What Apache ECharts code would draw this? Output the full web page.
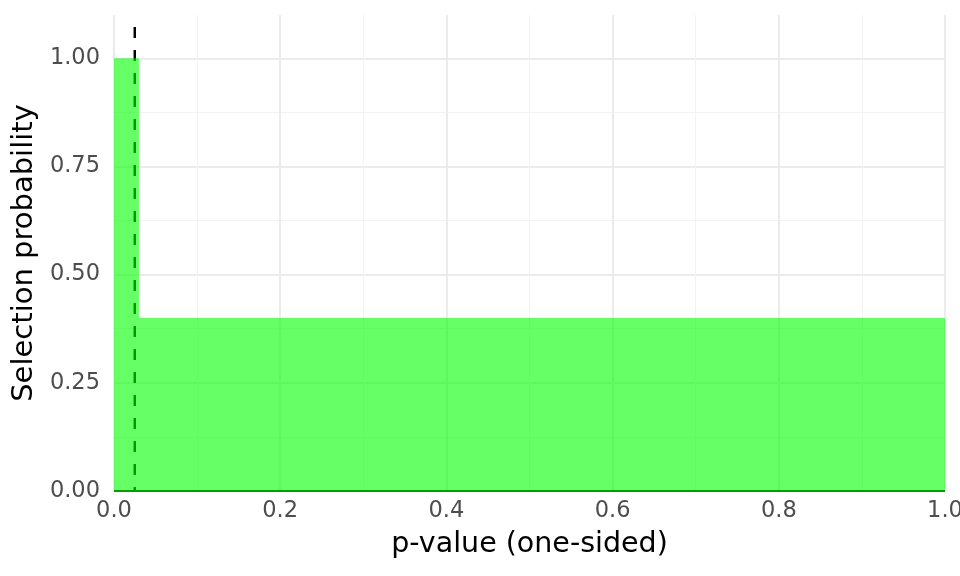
<!DOCTYPE html>
<html><head><meta charset="utf-8">
<script src="https://cdn.jsdelivr.net/npm/echarts@6/dist/echarts.min.js"></script>
<style>html,body{margin:0;padding:0;background:#fff}#c{width:960px;height:576px}</style>
</head><body><div id="c"></div>
<script>
const stepBreaks = [0, 0.03, 1];
const selectionProb = [1, 0.4];
const cutoff = 0.025;
const xTicks = [0, 0.2, 0.4, 0.6, 0.8, 1.0];
const yTicks = [0, 0.25, 0.5, 0.75, 1.0];

const stepData = [];
for (let i = 0; i < selectionProb.length; i++) {
  stepData.push([stepBreaks[i], selectionProb[i]]);
  stepData.push([stepBreaks[i + 1], selectionProb[i]]);
}

const chart = echarts.init(document.getElementById('c'));
const font = 'DejaVu Sans';
chart.setOption({
  animation: false,
  grid: { left: 114, right: 15, top: 15, bottom: 85, containLabel: false, outerBoundsMode: 'none' },
  xAxis: {
    type: 'value', min: 0, max: 1, interval: 0.2,
    name: 'p-value (one-sided)', nameLocation: 'middle', nameGap: 39,
    nameTextStyle: { color: '#000', fontSize: 28.5, fontFamily: font },
    axisLine: { show: false }, axisTick: { show: false },
    axisLabel: { color: '#4d4d4d', fontSize: 22.5, fontFamily: font, margin: 9,
      formatter: v => xTicks.some(t => Math.abs(t - v) < 1e-9) ? v.toFixed(1) : '' },
    splitLine: { show: true, lineStyle: { color: '#ebebeb', width: 2 } },
    minorTick: { show: false, splitNumber: 2 },
    minorSplitLine: { show: true, lineStyle: { color: '#f3f3f3', width: 1 } }
  },
  yAxis: {
    type: 'value', min: 0, max: 1.1, interval: 0.25,
    name: 'Selection probability', nameLocation: 'middle', nameGap: 71,
    nameTextStyle: { color: '#000', fontSize: 29, fontFamily: font },
    axisLine: { show: false }, axisTick: { show: false },
    axisLabel: { color: '#4d4d4d', fontSize: 22.5, fontFamily: font, margin: 14, showMaxLabel: false,
      formatter: v => yTicks.some(t => Math.abs(t - v) < 1e-9) ? v.toFixed(2) : '' },
    splitLine: { show: true, showMaxLine: false, lineStyle: { color: '#ebebeb', width: 2 } },
    minorTick: { show: false, splitNumber: 2 },
    minorSplitLine: { show: true, lineStyle: { color: '#f3f3f3', width: 1 } }
  },
  series: [
    {
      type: 'line', data: [[cutoff, 0], [cutoff, 1.1]], symbol: 'none', silent: true,
      lineStyle: { color: '#000', width: 2.5, type: [11, 12], dashOffset: 7 }, z: 1
    },
    {
      type: 'line', data: stepData, symbol: 'none', silent: true,
      lineStyle: { width: 0, opacity: 0 },
      areaStyle: { color: 'rgba(0,255,0,0.6)', opacity: 1 }, z: 2
    },
    {
      type: 'line', data: [[0, 0], [1, 0]], symbol: 'none', silent: true,
      lineStyle: { color: '#00a000', width: 2 }, z: 3
    }
  ]
});
</script></body></html>
